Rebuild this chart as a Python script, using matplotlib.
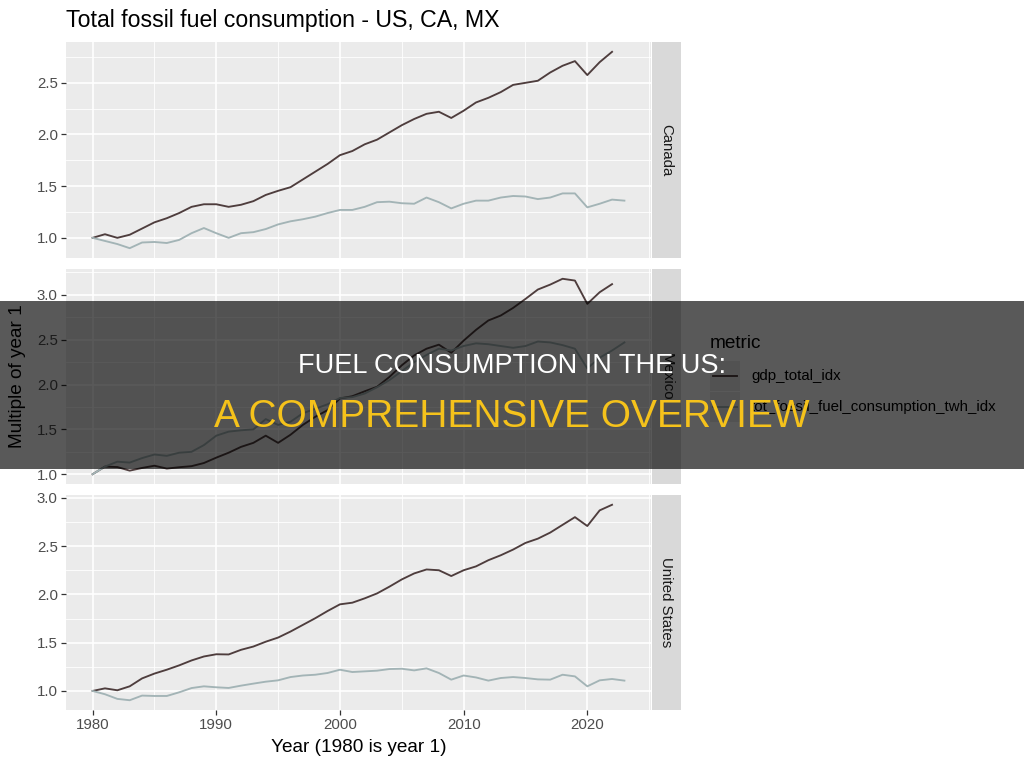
import numpy as np
import matplotlib
matplotlib.use('Agg')
import matplotlib.pyplot as plt
from matplotlib.ticker import MultipleLocator, FormatStrFormatter
from matplotlib.patches import Rectangle
from matplotlib.lines import Line2D

plt.rcParams['font.family'] = ['Liberation Sans', 'DejaVu Sans']

# data (index, 1980 = 1)
years = np.arange(1980, 2024)
countries = ['Canada', 'Mexico', 'United States']
metrics = ['gdp_total_idx', 'tot_fossil_fuel_consumption_twh_idx']

canada_gdp = [1.00, 1.035, 1.00, 1.03, 1.09, 1.15, 1.19, 1.24, 1.30, 1.325,
              1.325, 1.30, 1.32, 1.355, 1.415, 1.455, 1.49, 1.565, 1.64, 1.715,
              1.80, 1.84, 1.905, 1.95, 2.02, 2.09, 2.15, 2.20, 2.22, 2.16,
              2.23, 2.31, 2.355, 2.41, 2.48, 2.50, 2.52, 2.60, 2.665, 2.71,
              2.575, 2.70, 2.80]
canada_fuel = [1.00, 0.97, 0.94, 0.90, 0.955, 0.96, 0.95, 0.98, 1.045, 1.095,
               1.045, 1.00, 1.045, 1.055, 1.085, 1.13, 1.16, 1.18, 1.205, 1.24,
               1.27, 1.27, 1.30, 1.345, 1.35, 1.335, 1.33, 1.39, 1.345, 1.285,
               1.33, 1.36, 1.36, 1.39, 1.405, 1.40, 1.375, 1.39, 1.43, 1.43,
               1.295, 1.33, 1.37, 1.36]

mexico_gdp = [1.00, 1.085, 1.08, 1.04, 1.07, 1.095, 1.063, 1.078, 1.09, 1.125,
              1.185, 1.24, 1.305, 1.35, 1.43, 1.35, 1.44, 1.55, 1.64, 1.715,
              1.845, 1.87, 1.925, 1.975, 2.085, 2.215, 2.325, 2.40, 2.445, 2.355,
              2.49, 2.61, 2.715, 2.77, 2.855, 2.955, 3.06, 3.115, 3.18, 3.16,
              2.90, 3.03, 3.12]
mexico_fuel = [1.00, 1.085, 1.14, 1.13, 1.18, 1.22, 1.205, 1.24, 1.25, 1.325,
               1.43, 1.475, 1.49, 1.50, 1.615, 1.55, 1.585, 1.68, 1.73, 1.78,
               1.85, 1.86, 1.90, 1.97, 2.05, 2.15, 2.25, 2.33, 2.40, 2.38,
               2.43, 2.46, 2.45, 2.43, 2.41, 2.43, 2.48, 2.47, 2.44, 2.40,
               2.18, 2.30, 2.38, 2.47]

us_gdp = [1.00, 1.027, 1.007, 1.048, 1.13, 1.18, 1.22, 1.265, 1.316, 1.357,
          1.38, 1.378, 1.426, 1.46, 1.51, 1.553, 1.615, 1.684, 1.753, 1.828,
          1.897, 1.914, 1.959, 2.01, 2.08, 2.155, 2.217, 2.258, 2.25, 2.19,
          2.25, 2.29, 2.354, 2.405, 2.464, 2.533, 2.577, 2.64, 2.72, 2.80,
          2.708, 2.87, 2.928]
us_fuel = [1.00, 0.966, 0.918, 0.904, 0.952, 0.948, 0.948, 0.986, 1.03, 1.048,
           1.038, 1.031, 1.055, 1.076, 1.096, 1.11, 1.144, 1.16, 1.168, 1.186,
           1.22, 1.196, 1.203, 1.21, 1.227, 1.23, 1.213, 1.234, 1.186, 1.117,
           1.16, 1.14, 1.107, 1.134, 1.144, 1.134, 1.12, 1.117, 1.168, 1.151,
           1.048, 1.11, 1.124, 1.107]

gdp_series = [canada_gdp, mexico_gdp, us_gdp]
fuel_series = [canada_fuel, mexico_fuel, us_fuel]

gdp_color = '#4e3d3d'
fuel_color = '#a3b4b6'

W, H = 1024, 768
fig = plt.figure(figsize=(W / 100, H / 100), dpi=100)


def fx(px):
    return px / W


def fy(py):
    return 1 - py / H


panel_rows = [(42, 258), (269, 484), (495, 710)]
span = years.max() - years.min()
xlim = (years.min() - 0.05 * span, years.max() + 0.05 * span)

for i, country in enumerate(countries):
    top, bot = panel_rows[i]
    ax = fig.add_axes([fx(66), fy(bot), fx(585), (bot - top) / H])
    ax.set_facecolor('#ebebeb')
    gdp = gdp_series[i]
    ax.plot(years[:len(gdp)], gdp, color=gdp_color, lw=1.35)
    ax.plot(years, fuel_series[i], color=fuel_color, lw=1.35)
    ax.set_xlim(xlim)
    ax.margins(y=0.05)
    ax.xaxis.set_major_locator(MultipleLocator(10))
    ax.xaxis.set_minor_locator(MultipleLocator(5))
    ax.yaxis.set_major_locator(MultipleLocator(0.5))
    ax.yaxis.set_minor_locator(MultipleLocator(0.25))
    ax.yaxis.set_major_formatter(FormatStrFormatter('%.1f'))
    ax.grid(which='major', color='white', lw=1.2)
    ax.grid(which='minor', color='white', lw=0.6)
    ax.set_axisbelow(True)
    for s in ax.spines.values():
        s.set_visible(False)
    ax.tick_params(which='major', length=3.4, width=0.9, color='#333333',
                   labelcolor='#4d4d4d', labelsize=10.8, pad=2.5)
    ax.tick_params(which='minor', length=0)
    if i < 2:
        ax.tick_params(axis='x', which='both', length=0, labelbottom=False)

    # facet strip
    sax = fig.add_axes([fx(652), fy(bot), fx(29), (bot - top) / H])
    sax.set_facecolor('#d9d9d9')
    sax.set_xticks([])
    sax.set_yticks([])
    for s in sax.spines.values():
        s.set_visible(False)
    sax.text(0.5, 0.5, country, rotation=-90, ha='center', va='center',
             transform=sax.transAxes, fontsize=10.8, color='#1a1a1a')

fig.text(fx(66), fy(27), 'Total fossil fuel consumption - US, CA, MX',
         fontsize=16.7, ha='left', va='baseline')
fig.text(fx(18), fy(376), 'Multiple of year 1', rotation=90,
         ha='center', va='center', fontsize=13.7)
fig.text(fx(358.5), fy(747), 'Year (1980 is year 1)', ha='center',
         va='center', fontsize=13.7)

# legend
fig.text(fx(710), fy(348), 'metric', fontsize=13.7, va='baseline')
for k, (label, col) in enumerate(zip(metrics, [gdp_color, fuel_color])):
    yc = 376 + 31 * k
    fig.add_artist(Rectangle((fx(710), fy(yc + 15)), fx(30), 30 / H,
                             transform=fig.transFigure, facecolor='#ebebeb',
                             edgecolor='none'))
    fig.add_artist(Line2D([fx(713), fx(737)], [fy(yc), fy(yc)],
                          transform=fig.transFigure, color=col, lw=1.35))
    fig.text(fx(751), fy(yc), label, fontsize=10.8, va='center', ha='left')

# overlay banner
fig.add_artist(Rectangle((0, fy(469)), 1, 168 / H, transform=fig.transFigure,
                         facecolor='black', alpha=0.65, edgecolor='none',
                         zorder=20))
fig.text(0.5, fy(373), 'FUEL CONSUMPTION IN THE US:', color='white',
         fontsize=19.5, ha='center', va='baseline', zorder=21)
fig.text(0.5, fy(427), 'A COMPREHENSIVE OVERVIEW', color='#f5c21b',
         fontsize=28, ha='center', va='baseline', zorder=21)

fig.savefig('out.png', dpi=100)
